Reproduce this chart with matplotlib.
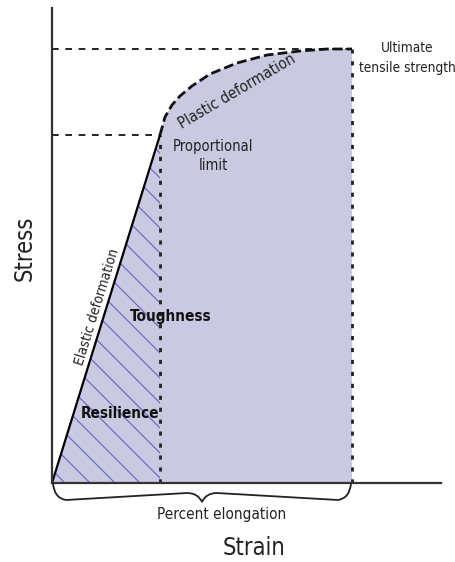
import numpy as np
import matplotlib
matplotlib.use("Agg")
from matplotlib import pyplot as plt
from matplotlib.path import Path
from matplotlib.patches import Polygon, PathPatch

# stress-strain curve (arbitrary units)
elastic_strain = [0, 108]
elastic_stress = [0, 348]
plastic_strain = [108, 113, 120, 128, 140, 158, 185, 215, 248, 275, 300]
plastic_stress = [348, 366, 378, 387, 397, 409, 420, 428, 432, 434, 434]

prop_strain, prop_stress = 108, 348
uts_strain, uts_stress = 300, 434
hatch_offsets = np.arange(13, 480, 25)   # where hatch lines hit the strain axis

plt.rcParams['font.family'] = ['DejaVu Sans']
plt.rcParams['font.stretch'] = 'condensed'

fig = plt.figure(figsize=(4.56, 5.62), dpi=100)
ax = fig.add_axes([0, 0, 1, 1])
ax.set_xlim(-52, 404)
ax.set_ylim(-79, 483)
ax.axis('off')

# toughness area
area = list(zip(elastic_strain, elastic_stress)) + list(zip(plastic_strain, plastic_stress))
area += [(uts_strain, 0)]
ax.add_patch(Polygon(area, closed=True, facecolor='#c9c9e1', edgecolor='none', zorder=1))

# resilience triangle hatch
tri = Polygon([(0, 0), (prop_strain, prop_stress), (prop_strain, 0)], closed=True,
              facecolor='none', edgecolor='none')
ax.add_patch(tri)
for x0 in hatch_offsets:
    xs = np.array([x0 - 600, x0])
    ys = -(xs - x0) * 1.0
    ln, = ax.plot(xs, ys, color='#6363c2', lw=0.8, zorder=2)
    ln.set_clip_path(tri)

# guide lines
ax.plot([0, prop_strain], [prop_stress, prop_stress], color='black', lw=1.2,
        dashes=(4, 4), zorder=3)
ax.plot([0, uts_strain], [uts_stress, uts_stress], color='black', lw=1.2,
        dashes=(4, 4), zorder=3)
ax.plot([prop_strain, prop_strain], [0, prop_stress], color='#222222', lw=2,
        dashes=(1.5, 2.8), zorder=3)
ax.plot([uts_strain, uts_strain], [0, uts_stress], color='#222222', lw=2,
        dashes=(1.5, 2.8), zorder=3)

# curve
ax.plot(elastic_strain, elastic_stress, color='black', lw=1.6, zorder=4,
        solid_capstyle='round')
ax.plot(plastic_strain, plastic_stress, color='#111111', lw=2, dashes=(3.5, 1.5), zorder=4)

# axes
ax.plot([0, 0], [0, 475], color='#333333', lw=1.6, zorder=5)
ax.plot([0, 389], [0, 0], color='#333333', lw=1.6, zorder=5)

# brace under percent elongation
mid = uts_strain / 2
verts = [(1, 0), (2, -15), (14, -17),
         (mid - 15, -10), (mid - 4, -10), (mid, -19),
         (mid + 4, -10), (mid + 15, -10),
         (uts_strain - 14, -17), (uts_strain - 2, -15), (uts_strain - 1, 0)]
codes = [Path.MOVETO, Path.CURVE3, Path.CURVE3,
         Path.LINETO, Path.CURVE3, Path.CURVE3,
         Path.CURVE3, Path.CURVE3,
         Path.LINETO, Path.CURVE3, Path.CURVE3]
ax.add_patch(PathPatch(Path(verts, codes), facecolor='none', edgecolor='#222222',
                       lw=1.3, zorder=5))

# labels
ax.text(170, -32, 'Percent elongation', fontsize=11, ha='center',
        va='center', color='#222222')
ax.text(202, -65, 'Strain', fontsize=17, ha='center', va='center', color='#222222')
ax.text(-27, 235, 'Stress', fontsize=17, rotation=90, ha='center', va='center',
        color='#222222')
ax.text(355, 435, 'Ultimate', fontsize=9.8, ha='center', va='center', color='#222222')
ax.text(355, 415, 'tensile strength', fontsize=9.8, ha='center', va='center',
        color='#222222')
ax.text(161, 336, 'Proportional', fontsize=10.5, ha='center', va='center',
        color='#222222')
ax.text(161, 317, 'limit', fontsize=10.5, ha='center', va='center', color='#222222')
ax.text(185, 392, 'Plastic deformation', fontsize=11, rotation=30.5, ha='center',
        va='center', color='#222222')
ax.text(45, 176, 'Elastic deformation', fontsize=10, rotation=72.8, ha='center',
        va='center', color='#222222')
ax.text(119, 167, 'Toughness', fontsize=11, fontweight='bold', ha='center',
        va='center', color='#111111')
ax.text(68, 70, 'Resilience', fontsize=11, fontweight='bold', ha='center',
        va='center', color='#111111')

fig.savefig('out.png', dpi=100)
